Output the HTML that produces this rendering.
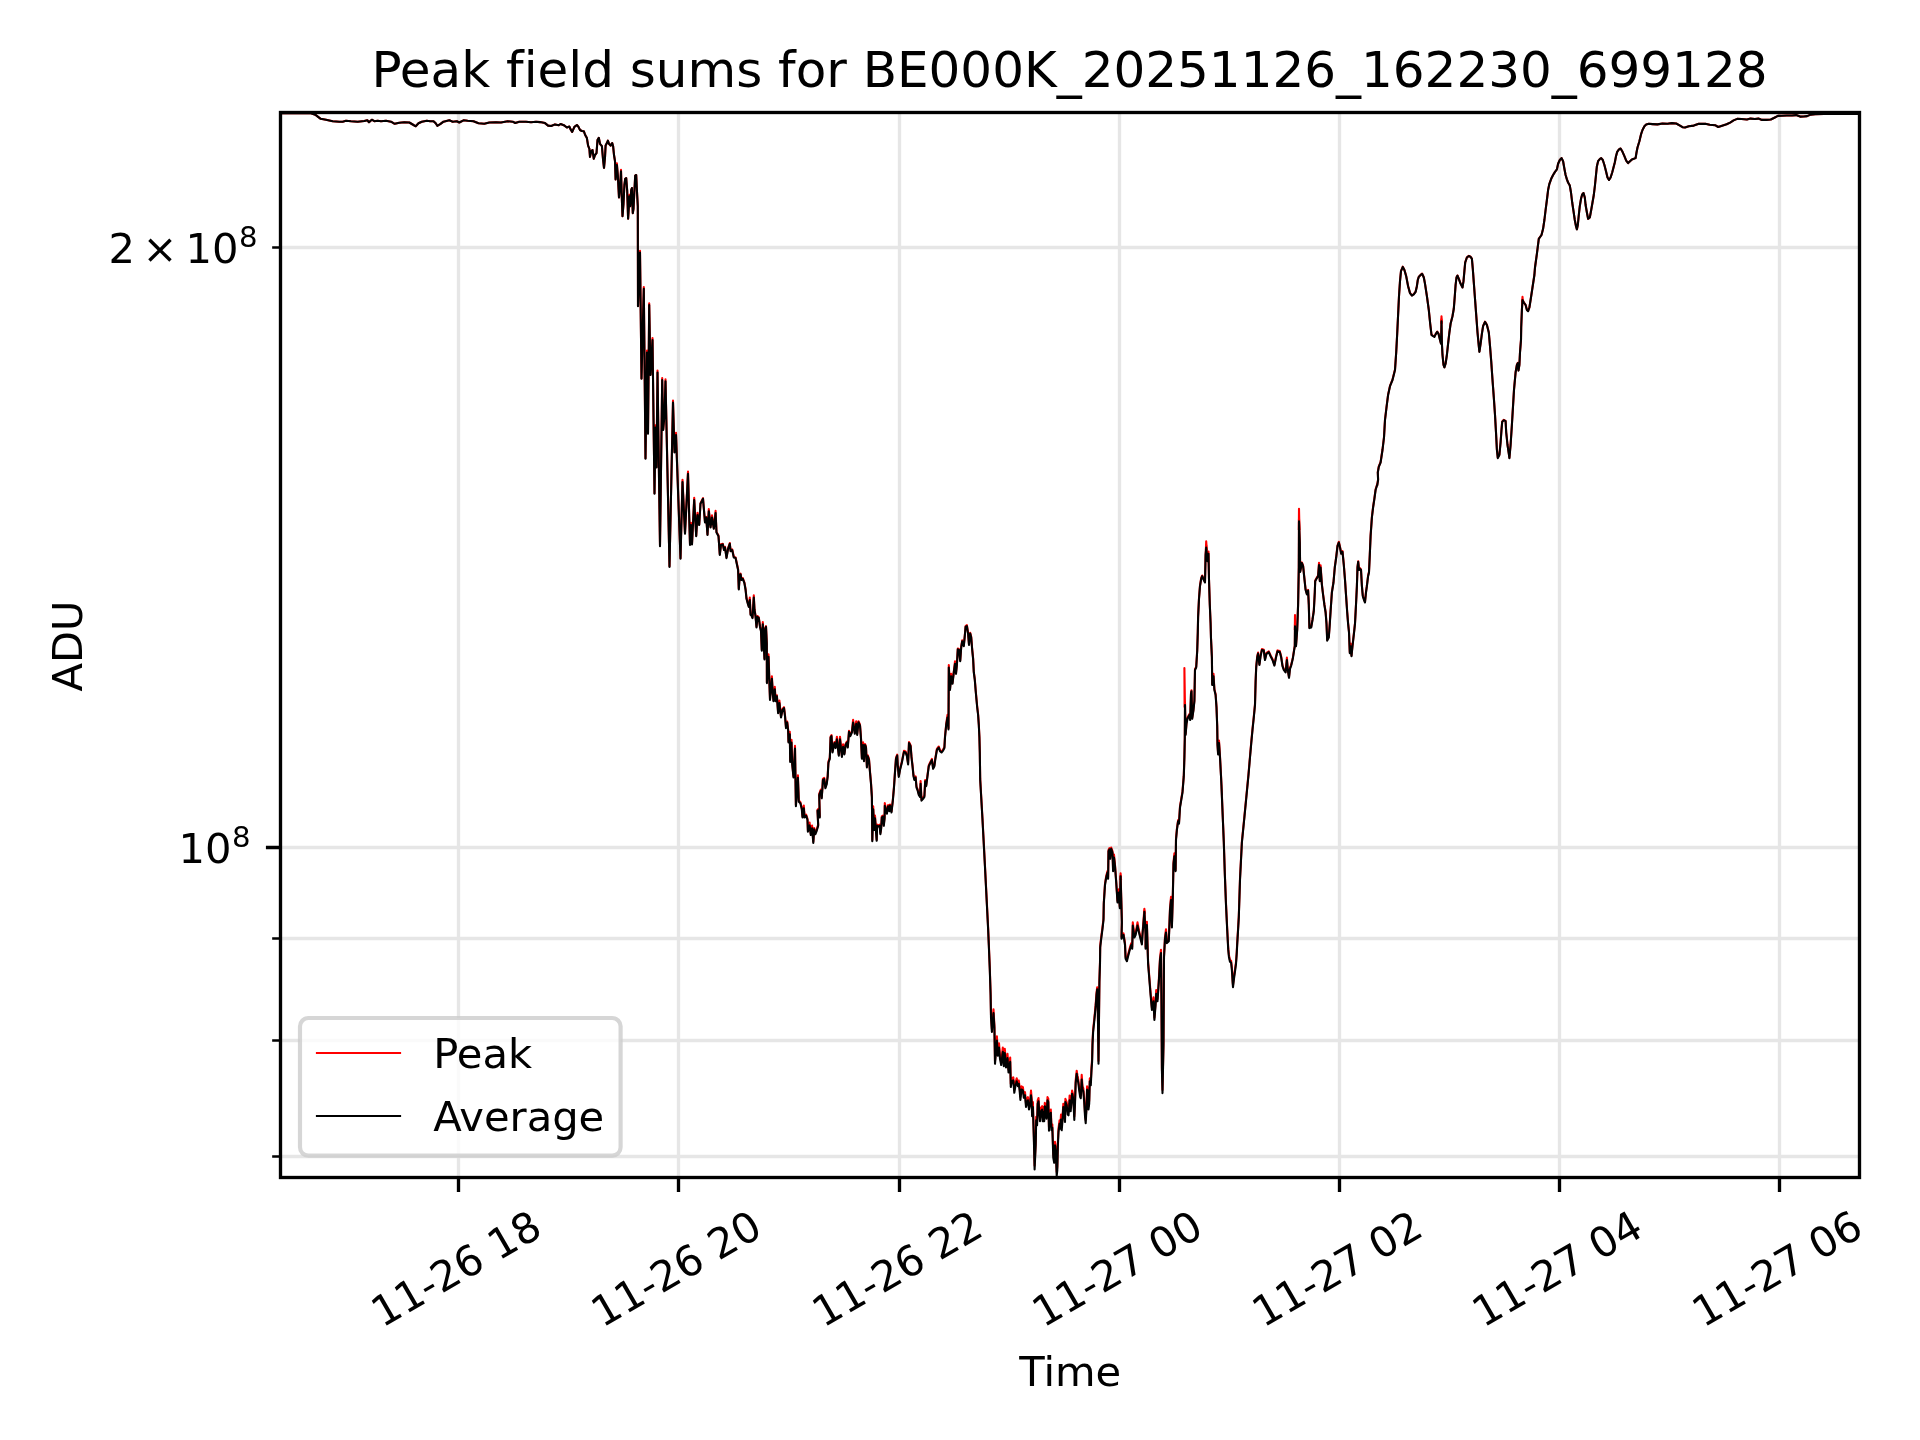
<!DOCTYPE html>
<html lang="en">
<head>
<meta charset="utf-8">
<title>Peak field sums for BE000K_20251126_162230_699128</title>
<style>
html,body{margin:0;padding:0;background:#ffffff;}
body{width:1920px;height:1440px;overflow:hidden;}
svg{display:block;will-change:transform;}
text{font-family:"DejaVu Sans", "Liberation Sans", sans-serif;fill:#000000;font-variant-ligatures:none;}
.t10{font-size:41.667px;}
.t12{font-size:50.000px;}
.t7{font-size:29.167px;}
</style>
</head>
<body>
<svg width="1920" height="1440" viewBox="0 0 1920 1440">
<rect x="0" y="0" width="1920" height="1440" fill="#ffffff"/>
<path d="M458.5 112.5V1177.5M678.5 112.5V1177.5M899.5 112.5V1177.5M1119.5 112.5V1177.5M1339.5 112.5V1177.5M1559.5 112.5V1177.5M1779.5 112.5V1177.5M280.5 847.5H1859.5M280.5 247.5H1859.5M280.5 938.5H1859.5M280.5 1040.5H1859.5M280.5 1156.5H1859.5" fill="none" stroke="#e6e6e6" stroke-width="3.333"/>
<defs><clipPath id="ax"><rect x="280.5" y="112.5" width="1579.0" height="1065.0"/></clipPath></defs>
<g clip-path="url(#ax)" fill="none" stroke-linejoin="round" stroke-linecap="butt">
<path d="M280.5 113.3L311.0 113.3L315.2 114.7L320.7 118.8L326.0 119.7L332.7 121.3L339.3 121.7L342.7 121.7L346.0 120.8L351.0 121.3L357.7 121.7L364.3 121.0L367.3 120.3L369.0 122.2L371.8 119.7L374.3 121.2L377.7 120.8L381.0 121.3L386.0 120.8L391.0 121.7L394.7 123.8L399.3 122.7L404.3 122.2L409.3 122.5L412.7 124.5L415.7 126.3L418.5 123.3L421.8 121.7L426.8 120.7L430.2 121.3L433.5 121.2L435.7 123.3L437.3 125.8L440.2 124.2L443.5 121.7L449.3 120.3L452.7 121.7L456.8 121.3L459.3 122.5L463.5 120.3L467.7 120.8L473.5 121.3L478.5 123.3L484.3 123.8L489.3 122.5L496.0 122.2L501.0 122.5L507.7 121.3L512.7 121.7L515.2 123.0L519.3 121.7L526.0 121.7L531.0 122.2L536.0 121.7L540.0 122.1L545.0 123.1L548.1 125.6L551.2 126.0L555.0 124.4L558.8 125.2L560.6 124.0L563.8 125.2L566.9 127.5L569.4 126.6L570.6 129.4L572.2 131.9L574.4 126.9L576.9 125.0L578.5 126.9L580.0 130.0L581.9 131.0L583.8 131.2L585.2 135.0L586.9 138.1L588.1 145.6L589.4 148.8L590.0 156.9L591.2 151.2L592.5 150.0L593.8 158.8L595.0 155.0L596.5 153.1L597.5 140.0L598.8 137.8L600.0 143.8L601.9 146.2L603.1 160.0L604.0 167.8L605.0 157.5L605.6 145.6L606.9 143.1L607.9 140.6L609.0 143.8L610.6 145.6L612.2 143.1L613.1 146.2L614.0 155.0L615.0 161.2L615.6 179.4L616.9 163.4L617.8 175.0L619.0 197.5L620.0 187.5L621.0 169.7L621.9 200.0L622.5 216.2L623.5 203.8L624.4 185.0L625.2 178.8L626.2 178.1L627.2 191.2L628.1 218.8L629.0 205.0L629.5 194.7L630.2 206.2L631.2 190.0L631.9 188.1L632.8 213.1L633.5 208.8L634.4 191.2L635.2 175.6L636.2 175.0L636.9 190.0L637.8 206.2L638.0 306.0L640.0 250.8L641.5 378.4L643.8 287.0L645.5 458.2L647.0 350.6L648.0 433.3L649.2 303.2L650.5 374.6L652.5 338.1L654.5 493.2L655.5 425.4L656.5 467.0L657.5 370.5L660.0 545.6L662.2 378.0L663.2 429.5L664.5 414.6L665.5 379.3L669.5 566.3L673.0 400.5L674.5 452.0L676.0 432.9L680.5 558.1L682.5 479.8L685.0 533.1L688.0 471.6L690.0 544.3L691.0 522.8L692.0 543.8L694.2 497.8L696.2 535.6L697.5 512.8L699.2 524.4L700.5 503.2L703.0 498.2L705.0 521.9L706.2 516.9L707.5 534.4L708.8 509.0L710.5 526.9L712.0 515.3L713.8 528.1L715.6 510.9L716.5 531.9L718.5 535.6L719.8 554.3L721.0 544.3L722.8 543.7L724.0 549.3L725.0 546.8L726.5 557.4L728.1 548.1L729.8 543.1L730.6 550.6L732.2 549.3L733.8 556.8L735.6 557.4L736.5 561.8L738.1 569.3L738.8 588.6L739.8 574.3L740.6 573.7L741.5 579.3L742.8 578.0L744.4 582.4L745.6 589.3L746.5 598.0L747.8 603.0L748.8 606.1L749.8 597.6L750.6 614.2L751.5 614.8L752.5 617.3L753.8 595.2L754.5 609.2L755.5 615.5L756.5 626.7L757.5 616.1L758.8 617.3L760.0 626.1L761.0 630.4L761.8 649.8L762.8 622.0L763.8 644.2L764.5 658.5L765.2 627.9L766.0 626.1L766.8 642.9L766.9 682.2L768.5 654.4L770.0 699.0L771.9 676.2L772.8 692.8L773.5 700.3L774.8 686.8L775.6 700.3L776.9 695.3L778.1 712.1L779.4 700.6L781.0 716.5L782.5 709.0L784.0 707.2L785.0 715.3L786.0 727.1L787.2 721.5L788.1 729.0L788.5 741.5L789.8 731.8L790.2 760.8L791.5 739.9L792.2 763.3L793.5 776.4L795.0 745.9L795.9 805.1L797.9 775.2L798.8 800.5L800.4 802.2L801.8 808.0L802.5 816.3L803.8 805.6L804.6 816.3L806.2 814.7L807.5 818.8L807.9 830.5L809.6 822.6L810.8 833.8L812.1 825.5L813.3 841.7L814.2 828.0L815.4 832.9L816.7 829.6L818.2 824.6L817.5 809.7L818.5 808.8L819.8 816.3L819.2 793.9L820.8 789.7L821.7 797.2L822.5 786.4L822.9 778.9L824.2 777.9L825.4 787.2L826.7 783.0L827.7 775.6L828.3 763.9L828.5 761.4L829.8 757.7L830.6 736.5L831.5 735.2L832.5 751.4L834.4 742.1L835.6 747.1L836.9 736.7L838.8 754.6L840.0 736.7L841.9 755.8L843.1 744.2L844.4 753.3L845.6 744.0L846.9 741.5L847.8 746.5L849.0 730.9L850.2 735.2L851.9 731.5L853.1 719.9L854.8 732.7L856.2 721.2L857.2 734.0L858.5 721.3L860.0 724.6L861.0 737.7L861.9 757.7L863.1 742.4L864.0 760.2L865.0 744.0L866.0 746.5L866.9 766.4L867.8 755.2L869.0 758.9L870.0 771.4L871.0 782.6L871.9 796.4L872.3 840.0L873.2 806.4L874.2 828.8L875.0 815.5L876.7 839.6L877.1 824.6L878.8 825.5L879.6 824.6L880.4 832.9L881.2 827.1L881.8 816.3L882.9 815.5L883.8 824.6L884.6 817.1L884.8 803.1L886.9 812.6L888.1 805.1L889.4 810.1L890.0 804.5L891.5 811.3L892.8 800.1L894.0 786.4L895.0 771.4L896.0 757.7L897.2 754.6L897.8 765.2L898.8 775.8L900.0 768.9L901.9 761.4L903.1 755.2L904.0 750.8L905.6 751.4L906.9 755.2L908.1 763.3L909.0 742.1L910.6 745.2L911.5 756.4L912.5 765.2L913.5 775.1L914.4 778.9L915.6 776.4L916.5 786.4L917.5 788.9L918.8 793.9L920.0 795.7L920.6 781.0L921.5 799.5L923.1 797.6L924.4 795.7L925.2 780.1L926.2 785.1L927.5 775.1L928.8 765.2L930.0 762.7L931.9 758.9L933.1 767.7L934.4 765.2L935.2 758.9L936.9 749.0L938.8 746.5L940.0 750.2L941.5 751.4L943.1 749.6L944.4 747.1L945.0 736.5L946.2 724.0L947.5 714.9L948.5 728.4L948.8 665.0L950.0 689.1L951.2 673.7L952.5 682.8L953.8 671.6L955.0 661.3L956.0 672.9L956.9 664.1L957.8 648.5L959.0 649.1L960.2 660.4L961.2 646.7L962.2 640.4L963.8 645.4L964.8 635.4L965.6 626.1L966.9 625.2L968.1 632.9L969.0 644.2L970.2 632.7L971.2 636.7L972.2 649.1L973.1 657.9L973.8 671.6L974.8 679.1L975.6 689.1L976.5 699.0L977.2 706.5L978.1 714.0L978.8 724.0L979.4 736.5L979.8 751.4L980.2 778.9L982.5 818.8L985.0 866.2L988.1 927.1L988.8 943.2L989.8 968.0L990.6 992.8L991.0 1015.1L991.9 1029.3L993.5 1009.2L994.4 1025.0L995.0 1060.9L996.9 1036.4L997.8 1052.9L999.0 1043.2L1000.0 1056.0L1001.2 1062.2L1002.8 1047.6L1003.8 1063.4L1004.8 1048.8L1006.0 1064.6L1007.5 1053.7L1008.5 1069.6L1010.2 1057.5L1010.8 1083.9L1011.8 1078.2L1013.3 1077.3L1014.3 1089.7L1015.4 1083.1L1016.7 1078.2L1017.9 1083.1L1018.8 1080.6L1019.6 1087.2L1020.4 1096.7L1021.5 1086.4L1022.9 1087.2L1023.8 1094.7L1025.0 1092.2L1026.0 1103.7L1027.1 1098.8L1027.9 1097.1L1029.0 1106.2L1030.0 1102.1L1031.0 1090.6L1031.7 1098.8L1032.1 1112.8L1032.9 1102.1L1033.8 1133.5L1034.6 1165.8L1035.7 1141.8L1036.2 1116.9L1037.1 1121.9L1037.7 1100.4L1038.5 1098.0L1039.3 1110.3L1040.0 1117.8L1041.0 1107.9L1042.1 1106.2L1042.7 1117.8L1043.3 1107.1L1044.2 1117.8L1044.8 1102.9L1045.7 1105.4L1046.5 1115.3L1047.5 1097.1L1048.3 1098.8L1049.0 1127.3L1050.0 1112.0L1050.8 1109.5L1051.5 1126.9L1052.3 1124.4L1052.9 1141.8L1053.3 1154.2L1054.2 1159.1L1055.0 1141.8L1055.8 1147.5L1056.7 1172.0L1057.3 1166.6L1057.9 1141.8L1058.5 1128.5L1059.6 1120.2L1060.4 1125.2L1061.0 1114.5L1061.7 1126.9L1062.5 1116.9L1063.3 1103.7L1064.2 1108.7L1065.0 1118.6L1065.4 1098.8L1066.7 1102.1L1067.7 1111.2L1068.5 1112.0L1069.2 1103.7L1069.6 1095.5L1070.7 1107.9L1071.2 1100.4L1072.1 1090.5L1072.9 1093.8L1073.8 1105.4L1074.3 1116.5L1075.0 1100.4L1075.7 1079.8L1076.7 1070.7L1077.5 1075.7L1078.3 1079.8L1079.2 1087.2L1080.2 1093.8L1080.8 1095.1L1081.7 1074.9L1082.5 1086.4L1083.3 1088.1L1084.2 1098.8L1085.0 1112.8L1085.7 1119.8L1086.5 1105.4L1087.1 1086.4L1087.9 1088.1L1088.5 1106.2L1089.2 1100.4L1089.8 1078.2L1090.8 1082.3L1091.5 1067.4L1092.1 1059.2L1092.5 1042.3L1093.1 1030.0L1094.4 1017.6L1095.6 1005.2L1096.5 992.8L1097.2 987.2L1097.8 1005.2L1098.5 1060.9L1099.4 980.4L1100.0 961.8L1100.2 945.7L1101.2 937.0L1102.5 927.1L1103.5 918.4L1103.8 902.2L1105.0 883.6L1106.2 876.1L1107.5 871.1L1108.1 877.3L1108.5 850.0L1109.4 848.1L1110.2 857.5L1111.2 847.5L1112.5 851.2L1113.1 869.9L1114.0 854.6L1115.0 864.9L1116.2 881.1L1117.5 901.0L1118.8 889.4L1119.8 906.6L1120.6 873.3L1121.2 896.0L1121.9 920.9L1121.5 937.0L1123.5 933.3L1125.0 943.2L1125.6 956.9L1126.9 959.3L1128.1 954.4L1129.4 949.4L1131.2 943.2L1132.2 947.0L1132.8 922.4L1134.4 935.8L1135.6 933.3L1137.5 922.4L1139.0 930.8L1140.2 935.8L1141.9 942.6L1142.5 933.3L1144.4 908.7L1145.6 933.3L1145.6 947.0L1146.9 921.7L1147.5 943.2L1148.1 961.8L1149.4 977.9L1150.6 992.8L1151.9 1007.7L1153.5 997.4L1154.4 1017.6L1155.6 1002.7L1156.2 990.0L1157.5 999.0L1158.8 980.4L1160.0 958.1L1161.0 949.7L1161.5 1005.2L1161.9 1067.1L1162.5 1090.0L1163.5 1042.3L1164.0 955.6L1165.0 937.0L1166.0 929.2L1166.9 941.4L1168.8 939.5L1170.0 908.4L1171.0 896.9L1171.9 925.8L1172.8 896.0L1173.5 862.4L1174.4 853.4L1175.6 869.9L1176.0 838.8L1176.9 828.8L1178.1 820.1L1179.0 822.6L1180.0 806.3L1182.5 791.4L1183.8 775.1L1184.4 756.4L1184.8 737.7L1185.0 702.4L1185.6 734.0L1186.5 722.8L1187.5 717.8L1189.4 714.0L1190.2 719.0L1191.0 692.8L1191.5 690.3L1192.2 717.8L1193.5 709.0L1194.4 700.3L1195.0 669.1L1196.2 666.6L1197.2 650.4L1197.8 631.7L1198.1 616.7L1199.0 598.0L1200.0 585.5L1201.2 578.0L1202.2 575.5L1203.8 579.3L1205.0 581.8L1205.6 554.3L1206.2 545.2L1207.5 560.6L1208.5 551.5L1209.0 579.3L1209.8 604.2L1210.6 623.0L1211.0 637.9L1211.9 656.6L1212.2 684.1L1213.5 673.7L1214.4 689.1L1215.6 694.1L1216.5 706.5L1217.2 725.2L1217.5 744.0L1218.1 753.3L1219.0 740.5L1220.0 756.4L1221.0 775.1L1221.9 793.9L1221.5 784.8L1222.5 810.1L1223.8 841.3L1224.8 872.4L1226.0 903.4L1227.2 928.3L1227.7 938.0L1228.2 947.6L1228.9 954.9L1229.9 959.7L1231.1 960.7L1231.8 966.9L1232.3 974.1L1232.7 981.4L1233.0 985.0L1234.0 976.5L1235.0 969.3L1236.0 962.1L1236.7 952.5L1237.2 942.8L1237.8 933.1L1238.8 915.9L1240.0 878.6L1241.9 841.3L1244.4 816.3L1248.5 773.9L1250.0 756.4L1251.2 742.7L1252.5 729.0L1253.8 716.5L1255.0 704.0L1255.6 681.6L1256.2 666.6L1257.2 656.6L1258.1 652.6L1259.4 664.1L1260.6 655.4L1261.9 649.1L1263.8 649.8L1265.0 659.1L1266.5 652.9L1268.8 651.4L1270.6 655.4L1272.5 659.1L1274.4 664.7L1276.0 656.6L1277.5 650.4L1279.8 651.0L1281.2 656.6L1282.5 665.4L1283.8 669.1L1285.6 671.6L1286.9 657.5L1287.8 669.1L1289.0 676.8L1290.0 667.9L1291.2 664.7L1292.8 657.9L1294.0 650.4L1294.8 645.4L1295.0 623.8L1296.0 645.4L1297.2 629.2L1298.1 604.2L1298.8 566.8L1299.0 519.0L1299.8 541.8L1300.2 571.2L1301.9 562.4L1303.1 565.6L1304.4 578.0L1305.6 589.3L1306.9 593.6L1308.1 589.9L1308.8 604.2L1309.4 627.3L1311.2 626.7L1312.5 619.2L1313.8 610.5L1314.8 591.8L1315.2 580.5L1316.9 577.4L1318.1 575.5L1319.0 562.7L1319.8 580.5L1320.6 565.2L1321.9 584.3L1323.1 594.3L1324.4 604.2L1325.6 611.7L1326.5 623.0L1327.2 639.8L1328.8 636.7L1329.8 623.0L1330.6 610.5L1331.9 591.8L1333.5 581.8L1334.8 566.8L1336.2 556.8L1337.5 545.6L1338.8 541.8L1340.0 546.8L1341.2 553.1L1342.5 551.2L1343.8 564.3L1345.0 579.3L1346.0 594.3L1347.2 611.7L1348.1 623.0L1349.0 631.7L1349.8 652.3L1350.6 643.8L1351.5 655.4L1352.5 645.4L1353.8 634.2L1355.0 623.0L1356.0 604.2L1356.9 585.5L1357.5 566.8L1358.2 561.2L1359.0 569.3L1360.0 568.1L1361.0 569.3L1361.9 585.5L1362.8 595.5L1364.0 599.2L1365.0 601.7L1366.0 591.8L1366.9 585.5L1368.1 575.5L1369.0 571.8L1369.8 554.3L1370.6 535.6L1371.9 516.9L1373.1 506.9L1374.4 498.2L1375.6 489.4L1377.5 483.2L1377.2 485.1L1378.1 479.4L1377.8 472.0L1378.8 466.3L1380.6 462.0L1382.5 449.5L1384.0 437.0L1385.0 419.6L1386.5 407.1L1388.1 394.6L1390.0 385.9L1392.5 379.6L1395.0 369.6L1396.2 352.2L1397.2 333.4L1398.1 314.7L1399.0 296.0L1400.0 281.1L1401.0 271.1L1402.8 266.7L1404.4 269.9L1406.2 276.1L1408.1 286.1L1410.0 292.9L1411.9 295.4L1413.8 294.2L1415.6 291.7L1416.9 286.1L1417.8 279.8L1418.8 276.7L1420.6 274.9L1422.1 273.6L1423.8 277.3L1425.0 283.6L1426.9 296.0L1428.8 309.8L1430.2 323.5L1431.5 334.7L1433.1 335.9L1434.4 336.6L1435.6 334.1L1437.2 331.6L1438.5 333.4L1440.0 339.7L1441.0 343.4L1441.5 319.4L1441.9 343.4L1442.5 354.7L1443.5 364.6L1444.4 367.1L1445.6 363.4L1446.9 354.7L1448.1 343.4L1449.4 332.2L1450.6 323.5L1452.5 316.0L1453.8 308.5L1454.8 296.0L1455.6 284.8L1456.5 277.3L1457.5 275.5L1458.8 278.6L1460.6 283.6L1462.5 287.3L1463.5 281.1L1464.4 271.1L1465.2 262.4L1466.9 257.4L1468.8 255.9L1470.6 256.8L1471.9 258.6L1472.8 268.6L1473.8 282.3L1475.0 298.5L1476.2 314.7L1477.5 332.2L1478.8 345.9L1479.4 351.5L1480.6 343.4L1481.9 333.4L1483.1 326.0L1485.0 321.6L1486.9 324.7L1488.8 332.2L1490.0 345.9L1491.2 360.9L1492.5 379.6L1493.8 397.1L1495.0 414.6L1496.0 432.0L1496.9 449.5L1497.8 457.6L1499.4 454.5L1500.6 442.0L1501.5 429.5L1502.2 421.4L1503.8 419.8L1505.6 420.8L1506.2 432.0L1507.5 444.5L1508.8 453.2L1509.4 457.6L1510.6 444.5L1511.9 424.5L1513.1 404.6L1514.0 389.6L1515.6 372.1L1516.9 364.6L1517.8 362.8L1518.5 370.3L1519.4 364.6L1520.0 352.2L1521.0 339.7L1521.2 327.2L1521.9 309.8L1522.5 299.8L1523.8 302.3L1525.6 304.8L1526.9 309.8L1528.1 311.0L1529.4 307.3L1530.6 299.8L1532.5 287.3L1534.4 274.9L1535.0 267.4L1536.9 253.7L1538.8 238.7L1541.5 235.0L1543.1 228.7L1544.4 220.0L1545.6 210.0L1546.9 200.0L1548.1 190.0L1549.4 183.8L1551.2 178.8L1553.1 175.0L1555.0 171.9L1556.9 169.4L1558.1 163.8L1559.8 160.0L1561.5 158.1L1563.1 161.2L1564.4 168.8L1565.6 175.0L1566.9 179.4L1568.1 182.5L1569.8 185.6L1571.0 192.5L1572.2 202.5L1573.5 211.2L1574.8 220.0L1576.0 226.2L1576.9 229.3L1577.8 225.0L1578.8 215.0L1579.8 206.2L1581.0 198.8L1582.2 194.4L1583.5 193.1L1584.8 197.5L1585.6 205.0L1586.9 212.5L1588.1 218.8L1589.8 217.5L1591.2 210.0L1592.5 202.5L1593.8 195.0L1595.0 185.0L1596.0 175.0L1596.9 166.2L1598.1 161.2L1600.0 158.8L1601.2 158.1L1602.8 160.0L1604.4 165.0L1606.0 171.2L1607.5 177.5L1609.0 180.0L1610.6 177.5L1612.2 172.5L1613.5 167.5L1614.8 162.5L1616.0 156.2L1617.2 151.9L1619.0 149.4L1620.6 148.5L1622.2 151.2L1624.4 156.2L1626.2 160.6L1628.1 163.1L1630.0 161.2L1631.9 159.4L1633.8 158.8L1635.6 158.1L1636.5 152.5L1637.5 147.5L1639.4 141.2L1641.0 134.4L1642.5 130.0L1644.4 126.2L1646.2 124.4L1648.8 123.8L1652.5 124.1L1657.5 124.4L1662.5 123.5L1667.5 123.8L1671.9 123.1L1676.2 123.5L1680.0 125.6L1682.5 127.2L1685.0 127.5L1688.8 126.2L1693.8 125.6L1698.8 123.8L1700.0 123.9L1705.3 123.7L1709.7 124.8L1715.1 125.2L1718.2 127.0L1722.1 125.7L1726.6 124.3L1730.1 122.6L1733.6 120.4L1737.2 118.9L1741.6 119.0L1746.9 119.5L1750.5 118.6L1754.9 119.0L1758.4 118.6L1762.0 119.9L1766.4 119.9L1770.8 119.5L1774.4 117.7L1777.9 115.9L1781.5 115.8L1786.8 115.5L1792.1 115.5L1796.1 115.1L1800.1 116.6L1803.6 116.5L1807.1 116.1L1810.7 114.6L1815.1 114.2L1824.0 114.0L1860.3 113.9" stroke="#ff0000" stroke-width="2.083"/>
<path d="M1184.6 707.5L1184.4 668.1L1185.0 707.5" stroke="#ff0000" stroke-width="2.083"/>
<path d="M1298.8 530.0L1299.0 508.8L1299.5 530.0" stroke="#ff0000" stroke-width="2.083"/>
<path d="M1294.8 630.0L1295.0 615.0L1295.5 630.0" stroke="#ff0000" stroke-width="2.083"/>
<path d="M1205.9 550.0L1206.2 541.2L1206.8 550.0" stroke="#ff0000" stroke-width="2.083"/>
<path d="M1441.2 323.8L1441.5 316.2L1441.9 323.8" stroke="#ff0000" stroke-width="2.083"/>
<path d="M1120.2 880.0L1120.6 875.6L1121.1 880.0" stroke="#ff0000" stroke-width="2.083"/>
<path d="M1144.0 913.8L1144.4 910.6L1144.9 913.8" stroke="#ff0000" stroke-width="2.083"/>
<path d="M1522.1 302.5L1522.5 296.9L1523.0 302.5" stroke="#ff0000" stroke-width="2.083"/>
<path d="M280.5 113.3L311.0 113.3L315.2 114.7L320.7 118.8L326.0 119.7L332.7 121.3L339.3 121.7L342.7 121.7L346.0 120.8L351.0 121.3L357.7 121.7L364.3 121.0L367.3 120.3L369.0 122.2L371.8 119.7L374.3 121.2L377.7 120.8L381.0 121.3L386.0 120.8L391.0 121.7L394.7 123.8L399.3 122.7L404.3 122.2L409.3 122.5L412.7 124.5L415.7 126.3L418.5 123.3L421.8 121.7L426.8 120.7L430.2 121.3L433.5 121.2L435.7 123.3L437.3 125.8L440.2 124.2L443.5 121.7L449.3 120.3L452.7 121.7L456.8 121.3L459.3 122.5L463.5 120.3L467.7 120.8L473.5 121.3L478.5 123.3L484.3 123.8L489.3 122.5L496.0 122.2L501.0 122.5L507.7 121.3L512.7 121.7L515.2 123.0L519.3 121.7L526.0 121.7L531.0 122.2L536.0 121.7L540.0 122.1L545.0 123.1L548.1 125.6L551.2 126.0L555.0 124.4L558.8 125.2L560.6 124.0L563.8 125.2L566.9 127.5L569.4 126.6L570.6 129.4L572.2 131.9L574.4 126.9L576.9 125.0L578.5 126.9L580.0 130.0L581.9 131.0L583.8 131.2L585.2 135.0L586.9 138.1L588.1 145.6L589.4 148.8L590.0 156.9L591.2 151.2L592.5 150.0L593.8 158.8L595.0 155.0L596.5 153.1L597.5 140.0L598.8 137.8L600.0 143.8L601.9 146.2L603.1 160.0L604.0 167.8L605.0 157.5L605.6 145.6L606.9 143.1L607.9 140.6L609.0 143.8L610.6 145.6L612.2 143.1L613.1 146.2L614.0 155.0L615.0 161.2L615.6 179.4L616.9 165.0L617.8 175.0L619.0 197.5L620.0 187.5L621.0 171.2L621.9 200.0L622.5 216.2L623.5 203.8L624.4 185.0L625.2 178.8L626.2 178.1L627.2 191.2L628.1 218.8L629.0 205.0L629.5 196.2L630.2 206.2L631.2 190.0L631.9 188.1L632.8 213.1L633.5 208.8L634.4 191.2L635.2 175.6L636.2 175.0L636.9 190.0L637.8 206.2L638.0 306.2L640.0 252.5L641.5 378.8L643.8 288.8L645.5 458.8L647.0 352.5L648.0 433.8L649.2 305.0L650.5 375.0L652.5 340.0L654.5 493.8L655.5 427.5L656.5 467.5L657.5 372.5L660.0 546.2L662.2 380.0L663.2 430.0L664.5 415.0L665.5 381.2L669.5 567.0L673.0 402.5L674.5 452.5L676.0 435.0L680.5 558.8L682.5 482.0L685.0 533.8L688.0 473.8L690.0 545.0L691.0 525.0L692.0 544.5L694.2 500.0L696.2 536.2L697.5 515.0L699.2 525.0L700.5 503.8L703.0 498.8L705.0 522.5L706.2 517.5L707.5 535.0L708.8 511.2L710.5 527.5L712.0 517.5L713.8 528.8L715.6 513.1L716.5 532.5L718.5 536.2L719.8 555.0L721.0 545.0L722.8 544.4L724.0 550.0L725.0 547.5L726.5 558.1L728.1 548.8L729.8 543.8L730.6 551.2L732.2 550.0L733.8 557.5L735.6 558.1L736.5 562.5L738.1 570.0L738.8 589.4L739.8 575.0L740.6 574.4L741.5 580.0L742.8 578.8L744.4 583.1L745.6 590.0L746.5 598.8L747.8 603.8L748.8 606.9L749.8 600.0L750.6 615.0L751.5 615.6L752.5 618.1L753.8 597.5L754.5 610.0L755.5 616.2L756.5 627.5L757.5 616.9L758.8 618.1L760.0 626.9L761.0 631.2L761.8 650.6L762.8 624.4L763.8 645.0L764.5 659.4L765.2 628.8L766.0 626.9L766.8 643.8L766.9 683.1L768.5 656.9L770.0 700.0L771.9 678.8L772.8 693.8L773.5 701.2L774.8 689.4L775.6 701.2L776.9 696.2L778.1 713.1L779.4 703.1L781.0 717.5L782.5 710.0L784.0 708.1L785.0 716.2L786.0 728.1L787.2 722.5L788.1 730.0L788.5 742.5L789.8 734.4L790.2 761.9L791.5 742.5L792.2 764.4L793.5 777.5L795.0 748.5L795.9 806.2L797.9 777.9L798.8 801.7L800.4 803.3L801.8 809.2L802.5 817.5L803.8 808.3L804.6 817.5L806.2 815.8L807.5 820.0L807.9 831.7L809.6 825.4L810.8 835.0L812.1 828.3L813.3 842.9L814.2 829.2L815.4 834.2L816.7 830.8L818.2 825.8L817.5 810.8L818.5 810.0L819.8 817.5L819.2 795.0L820.8 790.8L821.7 798.3L822.5 787.5L822.9 780.0L824.2 779.0L825.4 788.3L826.7 784.2L827.7 776.7L828.3 765.0L828.5 762.5L829.8 758.8L830.6 737.5L831.5 736.2L832.5 752.5L834.4 743.1L835.6 748.1L836.9 739.4L838.8 755.6L840.0 739.4L841.9 756.9L843.1 746.9L844.4 754.4L845.6 745.0L846.9 742.5L847.8 747.5L849.0 731.9L850.2 736.2L851.9 732.5L853.1 722.5L854.8 733.8L856.2 723.8L857.2 735.0L858.5 722.2L860.0 725.6L861.0 738.8L861.9 758.8L863.1 745.0L864.0 761.2L865.0 745.0L866.0 747.5L866.9 767.5L867.8 756.2L869.0 760.0L870.0 772.5L871.0 783.8L871.9 797.5L872.3 841.2L873.2 809.2L874.2 830.0L875.0 818.3L876.7 840.8L877.1 825.8L878.8 826.7L879.6 825.8L880.4 834.2L881.2 828.3L881.8 817.5L882.9 816.7L883.8 825.8L884.6 818.3L884.8 805.8L886.9 813.8L888.1 806.2L889.4 811.2L890.0 805.6L891.5 812.5L892.8 801.2L894.0 787.5L895.0 772.5L896.0 758.8L897.2 755.6L897.8 766.2L898.8 776.9L900.0 770.0L901.9 762.5L903.1 756.2L904.0 751.9L905.6 752.5L906.9 756.2L908.1 764.4L909.0 743.1L910.6 746.2L911.5 757.5L912.5 766.2L913.5 776.2L914.4 780.0L915.6 777.5L916.5 787.5L917.5 790.0L918.8 795.0L920.0 796.9L920.6 783.8L921.5 800.6L923.1 798.8L924.4 796.9L925.2 781.2L926.2 786.2L927.5 776.2L928.8 766.2L930.0 763.8L931.9 760.0L933.1 768.8L934.4 766.2L935.2 760.0L936.9 750.0L938.8 747.5L940.0 751.2L941.5 752.5L943.1 750.6L944.4 748.1L945.0 737.5L946.2 725.0L947.5 717.5L948.5 729.4L948.8 667.5L950.0 690.0L951.2 676.2L952.5 683.8L953.8 672.5L955.0 663.8L956.0 673.8L956.9 665.0L957.8 649.4L959.0 650.0L960.2 661.2L961.2 647.5L962.2 641.2L963.8 646.2L964.8 636.2L965.6 626.9L966.9 626.0L968.1 633.8L969.0 645.0L970.2 633.5L971.2 637.5L972.2 650.0L973.1 658.8L973.8 672.5L974.8 680.0L975.6 690.0L976.5 700.0L977.2 707.5L978.1 715.0L978.8 725.0L979.4 737.5L979.8 752.5L980.2 780.0L982.5 820.0L985.0 867.5L988.1 928.8L988.8 945.0L989.8 970.0L990.6 995.0L991.0 1017.5L991.9 1031.9L993.5 1013.1L994.4 1027.5L995.0 1063.8L996.9 1040.6L997.8 1055.6L999.0 1047.5L1000.0 1058.8L1001.2 1065.0L1002.8 1051.9L1003.8 1066.2L1004.8 1053.1L1006.0 1067.5L1007.5 1058.1L1008.5 1072.5L1010.2 1061.9L1010.8 1087.0L1011.8 1081.2L1013.3 1080.3L1014.3 1092.8L1015.4 1086.2L1016.7 1081.2L1017.9 1086.2L1018.8 1083.7L1019.6 1090.3L1020.4 1099.9L1021.5 1089.5L1022.9 1090.3L1023.8 1097.8L1025.0 1095.3L1026.0 1107.0L1027.1 1102.0L1027.9 1100.3L1029.0 1109.5L1030.0 1105.3L1031.0 1095.3L1031.7 1102.0L1032.1 1116.2L1032.9 1107.0L1033.8 1137.0L1034.6 1169.5L1035.7 1145.3L1036.2 1120.3L1037.1 1125.3L1037.7 1103.7L1038.5 1101.2L1039.3 1113.7L1040.0 1121.2L1041.0 1111.2L1042.1 1109.5L1042.7 1121.2L1043.3 1112.0L1044.2 1121.2L1044.8 1106.2L1045.7 1108.7L1046.5 1118.7L1047.5 1100.3L1048.3 1102.0L1049.0 1130.8L1050.0 1115.3L1050.8 1112.8L1051.5 1130.3L1052.3 1127.8L1052.9 1145.3L1053.3 1157.8L1054.2 1162.8L1055.0 1145.3L1055.8 1151.2L1056.7 1175.8L1057.3 1170.3L1057.9 1145.3L1058.5 1132.0L1059.6 1123.7L1060.4 1128.7L1061.0 1119.5L1061.7 1130.3L1062.5 1120.3L1063.3 1107.0L1064.2 1112.0L1065.0 1122.0L1065.4 1102.0L1066.7 1105.3L1067.7 1114.5L1068.5 1115.3L1069.2 1107.0L1069.6 1100.3L1070.7 1111.2L1071.2 1103.7L1072.1 1093.7L1072.9 1097.0L1073.8 1108.7L1074.3 1119.9L1075.0 1103.7L1075.7 1082.8L1076.7 1073.7L1077.5 1078.7L1078.3 1082.8L1079.2 1090.3L1080.2 1097.0L1080.8 1098.2L1081.7 1079.5L1082.5 1089.5L1083.3 1091.2L1084.2 1102.0L1085.0 1116.2L1085.7 1123.2L1086.5 1108.7L1087.1 1089.5L1087.9 1091.2L1088.5 1109.5L1089.2 1103.7L1089.8 1081.2L1090.8 1085.3L1091.5 1070.3L1092.1 1062.0L1092.5 1045.0L1093.1 1032.5L1094.4 1020.0L1095.6 1007.5L1096.5 995.0L1097.2 989.4L1097.8 1007.5L1098.5 1063.8L1099.4 982.5L1100.0 963.8L1100.2 947.5L1101.2 938.8L1102.5 928.8L1103.5 920.0L1103.8 903.8L1105.0 885.0L1106.2 877.5L1107.5 872.5L1108.1 878.8L1108.5 851.2L1109.4 849.4L1110.2 858.8L1111.2 848.8L1112.5 852.5L1113.1 871.2L1114.0 857.5L1115.0 866.2L1116.2 882.5L1117.5 902.5L1118.8 892.5L1119.8 908.1L1120.6 876.2L1121.2 897.5L1121.9 922.5L1121.5 938.8L1123.5 935.0L1125.0 945.0L1125.6 958.8L1126.9 961.2L1128.1 956.2L1129.4 951.2L1131.2 945.0L1132.2 948.8L1132.8 925.6L1134.4 937.5L1135.6 935.0L1137.5 925.6L1139.0 932.5L1140.2 937.5L1141.9 944.4L1142.5 935.0L1144.4 911.9L1145.6 935.0L1145.6 948.8L1146.9 925.0L1147.5 945.0L1148.1 963.8L1149.4 980.0L1150.6 995.0L1151.9 1010.0L1153.5 1001.2L1154.4 1020.0L1155.6 1005.0L1156.2 993.8L1157.5 1001.2L1158.8 982.5L1160.0 960.0L1161.0 953.1L1161.5 1007.5L1161.9 1070.0L1162.5 1093.1L1163.5 1045.0L1164.0 957.5L1165.0 938.8L1166.0 932.5L1166.9 943.1L1168.8 941.2L1170.0 910.0L1171.0 900.0L1171.9 927.5L1172.8 897.5L1173.5 863.8L1174.4 856.2L1175.6 871.2L1176.0 840.0L1176.9 830.0L1178.1 821.2L1179.0 823.8L1180.0 807.5L1182.5 792.5L1183.8 776.2L1184.4 757.5L1184.8 738.8L1185.0 705.0L1185.6 735.0L1186.5 723.8L1187.5 718.8L1189.4 715.0L1190.2 720.0L1191.0 693.8L1191.5 691.2L1192.2 718.8L1193.5 710.0L1194.4 701.2L1195.0 670.0L1196.2 667.5L1197.2 651.2L1197.8 632.5L1198.1 617.5L1199.0 598.8L1200.0 586.2L1201.2 578.8L1202.2 576.2L1203.8 580.0L1205.0 582.5L1205.6 555.0L1206.2 547.5L1207.5 561.2L1208.5 553.8L1209.0 580.0L1209.8 605.0L1210.6 623.8L1211.0 638.8L1211.9 657.5L1212.2 685.0L1213.5 676.2L1214.4 690.0L1215.6 695.0L1216.5 707.5L1217.2 726.2L1217.5 745.0L1218.1 754.4L1219.0 743.1L1220.0 757.5L1221.0 776.2L1221.9 795.0L1221.5 787.5L1222.5 811.2L1223.8 842.5L1224.8 873.8L1226.0 905.0L1227.2 930.0L1227.7 939.7L1228.2 949.4L1228.9 956.7L1229.9 961.6L1231.1 962.6L1231.8 968.9L1232.3 976.2L1232.7 983.5L1233.0 987.1L1234.0 978.6L1235.0 971.3L1236.0 964.0L1236.7 954.3L1237.2 944.6L1237.8 934.9L1238.8 917.5L1240.0 880.0L1241.9 842.5L1244.4 817.5L1248.5 775.0L1250.0 757.5L1251.2 743.8L1252.5 730.0L1253.8 717.5L1255.0 705.0L1255.6 682.5L1256.2 667.5L1257.2 657.5L1258.1 653.5L1259.4 665.0L1260.6 656.2L1261.9 650.0L1263.8 650.6L1265.0 660.0L1266.5 653.8L1268.8 652.2L1270.6 656.2L1272.5 660.0L1274.4 665.6L1276.0 657.5L1277.5 651.2L1279.8 651.9L1281.2 657.5L1282.5 666.2L1283.8 670.0L1285.6 672.5L1286.9 660.0L1287.8 670.0L1289.0 677.8L1290.0 668.8L1291.2 665.6L1292.8 658.8L1294.0 651.2L1294.8 646.2L1295.0 626.2L1296.0 646.2L1297.2 630.0L1298.1 605.0L1298.8 567.5L1299.0 521.2L1299.8 542.5L1300.2 571.9L1301.9 563.1L1303.1 566.2L1304.4 578.8L1305.6 590.0L1306.9 594.4L1308.1 590.6L1308.8 605.0L1309.4 628.1L1311.2 627.5L1312.5 620.0L1313.8 611.2L1314.8 592.5L1315.2 581.2L1316.9 578.1L1318.1 576.2L1319.0 565.0L1319.8 581.2L1320.6 567.5L1321.9 585.0L1323.1 595.0L1324.4 605.0L1325.6 612.5L1326.5 623.8L1327.2 640.6L1328.8 637.5L1329.8 623.8L1330.6 611.2L1331.9 592.5L1333.5 582.5L1334.8 567.5L1336.2 557.5L1337.5 546.2L1338.8 542.5L1340.0 547.5L1341.2 553.8L1342.5 551.9L1343.8 565.0L1345.0 580.0L1346.0 595.0L1347.2 612.5L1348.1 623.8L1349.0 632.5L1349.8 653.1L1350.6 646.2L1351.5 656.2L1352.5 646.2L1353.8 635.0L1355.0 623.8L1356.0 605.0L1356.9 586.2L1357.5 567.5L1358.2 561.9L1359.0 570.0L1360.0 568.8L1361.0 570.0L1361.9 586.2L1362.8 596.2L1364.0 600.0L1365.0 602.5L1366.0 592.5L1366.9 586.2L1368.1 576.2L1369.0 572.5L1369.8 555.0L1370.6 536.2L1371.9 517.5L1373.1 507.5L1374.4 498.8L1375.6 490.0L1377.5 483.8L1377.2 485.6L1378.1 480.0L1377.8 472.5L1378.8 466.9L1380.6 462.5L1382.5 450.0L1384.0 437.5L1385.0 420.0L1386.5 407.5L1388.1 395.0L1390.0 386.2L1392.5 380.0L1395.0 370.0L1396.2 352.5L1397.2 333.8L1398.1 315.0L1399.0 296.2L1400.0 281.2L1401.0 271.2L1402.8 266.9L1404.4 270.0L1406.2 276.2L1408.1 286.2L1410.0 293.1L1411.9 295.6L1413.8 294.4L1415.6 291.9L1416.9 286.2L1417.8 280.0L1418.8 276.9L1420.6 275.0L1422.1 273.8L1423.8 277.5L1425.0 283.8L1426.9 296.2L1428.8 310.0L1430.2 323.8L1431.5 335.0L1433.1 336.2L1434.4 336.9L1435.6 334.4L1437.2 331.9L1438.5 333.8L1440.0 340.0L1441.0 343.8L1441.5 321.2L1441.9 343.8L1442.5 355.0L1443.5 365.0L1444.4 367.5L1445.6 363.8L1446.9 355.0L1448.1 343.8L1449.4 332.5L1450.6 323.8L1452.5 316.2L1453.8 308.8L1454.8 296.2L1455.6 285.0L1456.5 277.5L1457.5 275.6L1458.8 278.8L1460.6 283.8L1462.5 287.5L1463.5 281.2L1464.4 271.2L1465.2 262.5L1466.9 257.5L1468.8 256.0L1470.6 256.9L1471.9 258.8L1472.8 268.8L1473.8 282.5L1475.0 298.8L1476.2 315.0L1477.5 332.5L1478.8 346.2L1479.4 351.9L1480.6 343.8L1481.9 333.8L1483.1 326.2L1485.0 321.9L1486.9 325.0L1488.8 332.5L1490.0 346.2L1491.2 361.2L1492.5 380.0L1493.8 397.5L1495.0 415.0L1496.0 432.5L1496.9 450.0L1497.8 458.1L1499.4 455.0L1500.6 442.5L1501.5 430.0L1502.2 421.9L1503.8 420.2L1505.6 421.2L1506.2 432.5L1507.5 445.0L1508.8 453.8L1509.4 458.1L1510.6 445.0L1511.9 425.0L1513.1 405.0L1514.0 390.0L1515.6 372.5L1516.9 365.0L1517.8 363.1L1518.5 370.6L1519.4 365.0L1520.0 352.5L1521.0 340.0L1521.2 327.5L1521.9 310.0L1522.5 300.0L1523.8 302.5L1525.6 305.0L1526.9 310.0L1528.1 311.2L1529.4 307.5L1530.6 300.0L1532.5 287.5L1534.4 275.0L1535.0 267.5L1536.9 253.8L1538.8 238.8L1541.5 235.0L1543.1 228.8L1544.4 220.0L1545.6 210.0L1546.9 200.0L1548.1 190.0L1549.4 183.8L1551.2 178.8L1553.1 175.0L1555.0 171.9L1556.9 169.4L1558.1 163.8L1559.8 160.0L1561.5 158.1L1563.1 161.2L1564.4 168.8L1565.6 175.0L1566.9 179.4L1568.1 182.5L1569.8 185.6L1571.0 192.5L1572.2 202.5L1573.5 211.2L1574.8 220.0L1576.0 226.2L1576.9 229.4L1577.8 225.0L1578.8 215.0L1579.8 206.2L1581.0 198.8L1582.2 194.4L1583.5 193.1L1584.8 197.5L1585.6 205.0L1586.9 212.5L1588.1 218.8L1589.8 217.5L1591.2 210.0L1592.5 202.5L1593.8 195.0L1595.0 185.0L1596.0 175.0L1596.9 166.2L1598.1 161.2L1600.0 158.8L1601.2 158.1L1602.8 160.0L1604.4 165.0L1606.0 171.2L1607.5 177.5L1609.0 180.0L1610.6 177.5L1612.2 172.5L1613.5 167.5L1614.8 162.5L1616.0 156.2L1617.2 151.9L1619.0 149.4L1620.6 148.5L1622.2 151.2L1624.4 156.2L1626.2 160.6L1628.1 163.1L1630.0 161.2L1631.9 159.4L1633.8 158.8L1635.6 158.1L1636.5 152.5L1637.5 147.5L1639.4 141.2L1641.0 134.4L1642.5 130.0L1644.4 126.2L1646.2 124.4L1648.8 123.8L1652.5 124.1L1657.5 124.4L1662.5 123.5L1667.5 123.8L1671.9 123.1L1676.2 123.5L1680.0 125.6L1682.5 127.2L1685.0 127.5L1688.8 126.2L1693.8 125.6L1698.8 123.8L1700.0 123.9L1705.3 123.7L1709.7 124.8L1715.1 125.2L1718.2 127.0L1722.1 125.7L1726.6 124.3L1730.1 122.6L1733.6 120.4L1737.2 118.9L1741.6 119.0L1746.9 119.5L1750.5 118.6L1754.9 119.0L1758.4 118.6L1762.0 119.9L1766.4 119.9L1770.8 119.5L1774.4 117.7L1777.9 115.9L1781.5 115.8L1786.8 115.5L1792.1 115.5L1796.1 115.1L1800.1 116.6L1803.6 116.5L1807.1 116.1L1810.7 114.6L1815.1 114.2L1824.0 114.0L1860.3 113.9" stroke="#000000" stroke-width="2.083"/>
</g>
<path d="M458.5 1177.5v14.583M678.5 1177.5v14.583M899.5 1177.5v14.583M1119.5 1177.5v14.583M1339.5 1177.5v14.583M1559.5 1177.5v14.583M1779.5 1177.5v14.583M280.5 847.5h-14.583" fill="none" stroke="#000" stroke-width="3.333"/>
<path d="M280.5 247.5h-8.333M280.5 938.5h-8.333M280.5 1040.5h-8.333M280.5 1156.5h-8.333" fill="none" stroke="#000" stroke-width="2.500"/>
<rect x="280.5" y="112.5" width="1579.0" height="1065.0" fill="none" stroke="#000" stroke-width="3.333" stroke-linejoin="miter"/>
<rect x="300.0" y="1018.0" width="320.6" height="137.5999999999999" rx="8.33" ry="8.33" fill="#ffffff" fill-opacity="0.8" stroke="#cccccc" stroke-opacity="0.8" stroke-width="4.167"/>
<path d="M315.9 1053.0H401.1" stroke="#ff0000" stroke-width="2.083" fill="none"/>
<path d="M315.9 1116.0H401.1" stroke="#000000" stroke-width="2.083" fill="none"/>
<text class="t10" x="433.2" y="1068.3">Peak</text>
<text class="t10" x="433.2" y="1131.0">Average</text>
<text class="t12" x="1069.5" y="87.0" text-anchor="middle" textLength="1396" lengthAdjust="spacing">Peak field sums for BE000K_20251126_162230_699128</text>
<text class="t10" x="1070.2" y="1386.2" text-anchor="middle">Time</text>
<text class="t10" transform="translate(81.8,646.0) rotate(-90)" text-anchor="middle">ADU</text>
<text class="t10" transform="translate(463.4,1281.2) rotate(-30)" text-anchor="middle">11-26 18</text>
<text class="t10" transform="translate(683.4,1281.2) rotate(-30)" text-anchor="middle">11-26 20</text>
<text class="t10" transform="translate(904.4,1281.2) rotate(-30)" text-anchor="middle">11-26 22</text>
<text class="t10" transform="translate(1124.4,1281.2) rotate(-30)" text-anchor="middle">11-27 00</text>
<text class="t10" transform="translate(1344.4,1281.2) rotate(-30)" text-anchor="middle">11-27 02</text>
<text class="t10" transform="translate(1564.4,1281.2) rotate(-30)" text-anchor="middle">11-27 04</text>
<text class="t10" transform="translate(1784.4,1281.2) rotate(-30)" text-anchor="middle">11-27 06</text>
<text class="t10" x="178.5" y="863.3">10<tspan class="t7" dx="0.6" dy="-15.9">8</tspan></text>
<text class="t10" y="263.3"><tspan x="108.5">2</tspan><tspan x="142.5">×</tspan><tspan x="185.5">10</tspan><tspan class="t7" dx="0.6" dy="-15.9">8</tspan></text>
</svg>
</body>
</html>
